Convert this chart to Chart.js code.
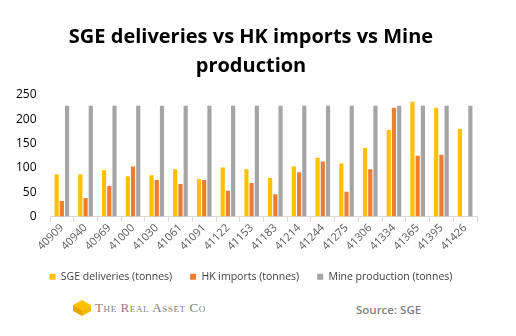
<!DOCTYPE html>
<html><head><meta charset="utf-8">
<script src="https://cdn.jsdelivr.net/npm/chart.js@4/dist/chart.umd.min.js"></script>
<style>
html,body{margin:0;padding:0;background:#fff;}
#wrap{position:relative;width:516px;height:336px;overflow:hidden;font-family:"Open Sans","DejaVu Sans",sans-serif;}
#cwrap{position:absolute;left:0;top:0;width:516px;height:292px;}
#logo{position:absolute;left:73px;top:298px;height:20px;display:flex;align-items:center;}
#logo span{font-family:"Liberation Serif","DejaVu Serif",serif;color:#7f7f7f;font-size:13px;font-variant:small-caps;letter-spacing:0.6px;margin-left:4px;}
#src{position:absolute;left:356px;top:302px;font-family:"Open Sans",sans-serif;font-size:11.5px;color:#7f7f7f;font-weight:600;}
</style></head>
<body><div id="wrap">
<div id="cwrap"><canvas id="c"></canvas></div>
<div id="logo"><svg width="18" height="16" viewBox="0 0 18 16"><polygon points="9,0 18,5 9,10 0,5" fill="#ffc000"/><polygon points="0,5 9,10 9,16 0,11" fill="#e6a800"/><polygon points="18,5 9,10 9,16 18,11" fill="#f5b800"/></svg><span>The Real Asset Co</span></div>
<div id="src">Source: SGE</div>
</div>
<script>
const categories = ["40909","40940","40969","41000","41030","41061","41091","41122","41153","41183","41214","41244","41275","41306","41334","41365","41395","41426"];
const sgeDeliveries = [87,87,95,83,85,97,77,101,97,79,103,121,109,141,178,236,224,180];
const hkImports = [32,38,63,103,75,67,75,53,69,46,91,113,51,97,224,125,127,null];
const mineProduction = [228,228,228,228,228,228,228,228,228,228,228,228,228,228,228,228,228,228];
const yTicks = [0,50,100,150,200,250];

new Chart(document.getElementById('c'), {
  type: 'bar',
  data: {
    labels: categories,
    datasets: [
      {label: 'SGE deliveries (tonnes)', data: sgeDeliveries, backgroundColor: '#ffc000'},
      {label: 'HK imports (tonnes)', data: hkImports, backgroundColor: '#ed7d31'},
      {label: 'Mine production (tonnes)', data: mineProduction, backgroundColor: '#a5a5a5'}
    ]
  },
  options: {
    responsive: true,
    maintainAspectRatio: false,
    animation: false,
    devicePixelRatio: 1,
    datasets: {bar: {categoryPercentage: 0.66, barPercentage: 0.8}},
    layout: {padding: {left: 25, right: 39, top: 0, bottom: 0}},
    plugins: {
      title: {
        display: true,
        text: ['SGE deliveries vs HK imports vs Mine', 'production'],
        color: '#000',
        font: {family: 'Open Sans', size: 20, weight: 'bold', lineHeight: 1.45},
        padding: {top: 23, bottom: 14}
      },
      legend: {
        position: 'bottom',
        labels: {boxWidth: 6, boxHeight: 6, color: '#404040', font: {family: 'Open Sans', size: 10.5}, padding: 18}
      },
      tooltip: {enabled: false}
    },
    scales: {
      x: {
        afterFit: (s) => { s.height = 37; },
        grid: {display: true, drawOnChartArea: false, offset: true, color: '#d9d9d9', tickLength: 5},
        border: {color: '#d9d9d9'},
        ticks: {color: '#595959', font: {family: 'Open Sans', size: 11}, minRotation: 45, maxRotation: 45, padding: 0}
      },
      y: {
        min: 0, max: 250,
        afterFit: (s) => { s.width = 25; },
        afterBuildTicks: (s) => { s.ticks = yTicks.map(v => ({value: v})); },
        grid: {display: false},
        border: {display: false},
        ticks: {color: '#000', font: {family: 'Open Sans', size: 12}, mirror: true, crossAlign: 'far', padding: -34}
      }
    }
  }
});
</script>
</body></html>
